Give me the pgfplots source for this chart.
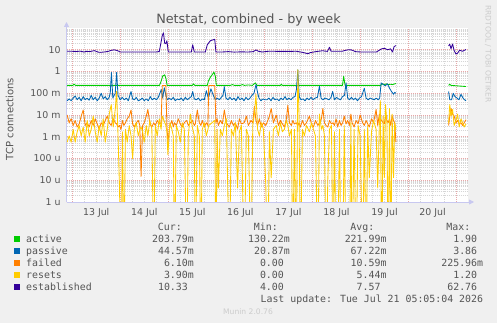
\documentclass[border=0pt]{standalone}
\usepackage{fontspec}
\setmainfont{DejaVu Sans}
\newfontfamily\monofont{DejaVu Sans Mono}
\usepackage{pgfplots}
\pgfplotsset{compat=1.18}
\usepackage{pgfplotstable}
\usetikzlibrary{arrows.meta}

\definecolor{cactive}{HTML}{00CC00}
\definecolor{cpassive}{HTML}{0066B3}
\definecolor{cfailed}{HTML}{FF8000}
\definecolor{cresets}{HTML}{FFCC00}
\definecolor{cestab}{HTML}{330099}
\definecolor{bg}{HTML}{F0F0F0}
\definecolor{txt}{HTML}{555555}
\definecolor{mgrid}{HTML}{E8A8A8}
\definecolor{ngrid}{HTML}{D6D6D6}
\definecolor{axcol}{HTML}{C8C8F0}
\definecolor{faint}{HTML}{CCCCCC}

% failed (f) and resets (r), connections per second; 1e-9 = zero
\pgfplotstableread{
h f r
-2.5 10e-3 0.56e-3
-1.5 4.4e-3 1.1e-3
-0.5 6.7e-3 0.56e-3
0.5 3.3e-3 2.2e-3
1.5 5.6e-3 0.56e-3
2.5 2.8e-3 1.7e-3
3.5 3.9e-3 3.3e-3
4.5 8.9e-3 1.1e-3
5.5 17e-3 2.8e-3
6.5 3.3e-3 0.56e-3
7.5 4.4e-3 5.6e-3
8.5 2.8e-3 1.1e-3
9.5 5.6e-3 2.2e-3
10.5 3.3e-3 8.9e-3
11.5 6.7e-3 1.7e-3
12.5 3.9e-3 0.56e-3
13.5 2.2e-3 3.3e-3
14.5 4.4e-3 1.1e-3
15.5 3.3e-3 6.7e-3
16.5 5.6e-3 0.56e-3
17.5 8.9e-3 2.2e-3
18.5 4.4e-3 11e-3
19.5 3.3e-3 30e-3
20.5 6.7e-3 2.8e-3
21.5 4.4e-3 18e-3
22.2 3.9e-3 120e-3
22.9 2.8e-3 1.1e-3
23.6 3.3e-3 0.006e-3
24.4 2.2e-3 1e-9
25.1 5.6e-3 1.7e-3
25.8 3.3e-3 1e-9
26.6 4.4e-3 2.2e-3
27.5 6.7e-3 0.56e-3
28.5 8.9e-3 3.3e-3
29.4 17e-3 1.1e-3
30.2 3.9e-3 0.1e-3
31 2.8e-3 2.2e-3
32 4.4e-3 4.4e-3
33 5.6e-3 1.1e-3
33.8 3.3e-3 2.2e-3
34.4 0.015e-3 2.8e-3
35.2 3.3e-3 1.7e-3
36 4.4e-3 0.56e-3
37 8.9e-3 3.3e-3
37.8 18e-3 1.1e-3
38.8 3.9e-3 5.6e-3
39.8 2.8e-3 2.2e-3
40.7 4.4e-3 1e-9
41.5 3.3e-3 3.3e-3
42.5 5.6e-3 1.1e-3
43.5 3.9e-3 6.7e-3
44.4 4.4e-3 2.2e-3
45.0 226e-3 8.9e-3
46.8 226e-3 3.3e-3
47.3 3.3e-3 1.7e-3
47.8 0.56e-3 0.15e-3
48.8 3.3e-3 4.4e-3
49.8 5.6e-3 2.2e-3
50.5 2.8e-3 1.1e-3
51.1 4.4e-3 1e-9
52 3.3e-3 3.3e-3
53 6.7e-3 1.7e-3
54 3.9e-3 0.56e-3
55 2.8e-3 4.4e-3
56 4.4e-3 2.2e-3
57.2 5.6e-3 1e-9
58 3.3e-3 1.1e-3
59 4.4e-3 11e-3
60 5.6e-3 2.8e-3
61 3.3e-3 1.1e-3
61.5 3.9e-3 1e-9
62.5 17e-3 3.3e-3
63.5 4.4e-3 1.1e-3
64.3 3.3e-3 1e-9
65 5.6e-3 2.2e-3
66 2.8e-3 4.4e-3
67 4.4e-3 1.1e-3
67.8 3.3e-3 2.2e-3
68.2 226e-3 3.3e-3
71.2 226e-3 5.6e-3
71.8 4.4e-3 1e-9
72.4 6.7e-3 2.2e-3
73 3.3e-3 0.0044e-3
74 5.6e-3 2.2e-3
75 3.9e-3 1.1e-3
76 17e-3 3.3e-3
77 4.4e-3 6.7e-3
78.5 2.8e-3 1e-9
79.5 5.6e-3 2.2e-3
80.5 3.3e-3 1.1e-3
81.5 4.4e-3 4.4e-3
82.6 2.2e-3 0.0044e-3
83.5 6.7e-3 1.7e-3
84.5 3.9e-3 3.3e-3
85.9 4.4e-3 1e-9
87 8.9e-3 2.2e-3
88 3.3e-3 1.1e-3
89.3 5.6e-3 1e-9
90.2 4.4e-3 3.3e-3
91 25e-3 11e-3
91.8 5.6e-3 90e-3
92.6 3.3e-3 2.2e-3
93.5 6.7e-3 1.1e-3
94.5 2.8e-3 4.4e-3
95.5 4.4e-3 2.2e-3
96.7 3.3e-3 0.006e-3
97.7 5.6e-3 1e-9
98.5 8.9e-3 1.7e-3
99.4 20e-3 0.013e-3
100.5 4.4e-3 2.2e-3
101.9 10e-3 3.3e-3
103 3.3e-3 1.1e-3
104 5.6e-3 4.4e-3
105 3.9e-3 1.7e-3
106 2.8e-3 2.2e-3
107 6.7e-3 5.6e-3
107.7 28e-3 3.3e-3
108.5 4.4e-3 1.1e-3
109.5 3.3e-3 2.2e-3
110.2 5.6e-3 1e-9
111 3.9e-3 2.2e-3
111.9 4.4e-3 1e-9
112.7 3.3e-3 1200e-3
113.3 4.4e-3 8.9e-3
114 2.8e-3 1e-9
115 5.6e-3 2.2e-3
116 3.3e-3 1.1e-3
117 4.4e-3 3.3e-3
118.5 8.9e-3 1.7e-3
119.5 3.9e-3 4.4e-3
120.5 2.8e-3 2.2e-3
121.5 5.6e-3 1.1e-3
122.7 3.3e-3 1e-9
123.5 4.4e-3 11e-3
124.5 6.7e-3 2.2e-3
125.2 20e-3 3.3e-3
126 4.4e-3 1.1e-3
126.8 3.3e-3 1e-9
127.7 2.8e-3 0.013e-3
128.5 5.6e-3 2.2e-3
129.5 3.9e-3 3.3e-3
130.3 4.4e-3 1e-9
131 3.3e-3 1.7e-3
131.8 6.7e-3 1e-9
132.6 2.8e-3 1e-9
133.5 5.6e-3 2.2e-3
134.3 3.3e-3 1e-9
135.1 4.4e-3 1e-9
135.9 8.9e-3 3.3e-3
136.8 3.9e-3 1e-9
137.6 5.6e-3 1e-9
138.5 3.3e-3 1e-9
139.2 11e-3 4.4e-3
139.8 4.4e-3 1e-9
140.8 2.8e-3 2.2e-3
141.8 5.6e-3 1e-9
142.8 3.9e-3 3.3e-3
143.8 10e-3 1.1e-3
145.1 4.4e-3 1e-9
145.9 3.3e-3 2.2e-3
146.8 5.6e-3 1e-9
147.6 3.9e-3 3.3e-3
148.4 2.8e-3 0.013e-3
149.5 6.7e-3 1.7e-3
150.5 4.4e-3 5.6e-3
151.8 18e-3 2.2e-3
152.6 3.3e-3 0.0044e-3
153.4 11e-3 3.3e-3
153.9 6.7e-3 46e-3
154.6 5.6e-3 1e-9
155.3 4.4e-3 8.9e-3
155.9 3.9e-3 0.013e-3
156.5 8.9e-3 30e-3
157.2 5.6e-3 4.4e-3
157.8 4.4e-3 1e-9
158.5 6.7e-3 20e-3
159.1 3.3e-3 1e-9
159.8 8.9e-3 11e-3
160.5 5.6e-3 0.013e-3
161.1 4.4e-3 4.4e-3
161.7 0.56e-3 2.2e-3
175 nan nan
188 3.3e-3 4.4e-3
188.6 8.9e-3 30e-3
189.2 20e-3 8.9e-3
190 11e-3 18e-3
190.8 8.9e-3 3.3e-3
191.7 4.4e-3 5.6e-3
192.5 5.6e-3 11e-3
193.3 3.9e-3 2.8e-3
194.2 4.4e-3 6.7e-3
195 3.3e-3 4.4e-3
195.8 4.4e-3 2.8e-3
196.7 6.1e-3 3.9e-3
}\failres

\begin{document}
\begin{tikzpicture}[x=1pt,y=1pt]
\useasboundingbox (0,0) rectangle (497,323);
\fill[bg] (0,0) rectangle (497,323);
\begin{axis}[
  at={(66.5pt,121pt)}, anchor=south west,
  width=401.5pt, height=174pt, scale only axis,
  xmin=-2.84, xmax=197.7,
  ymode=log, ymin=1e-6, ymax=100,
  unbounded coords=jump,
  axis background/.style={fill=white},
  axis x line=bottom, axis y line=left,
  axis line style={draw=axcol, line width=0.8pt},
  x axis line style={-{Triangle[length=5pt,width=5pt]}, shorten >=-6pt},
  y axis line style={-{Triangle[length=5pt,width=5pt]}, shorten >=-6pt},
  major tick length=0pt, minor tick length=0pt,
  xtick={12,36,60,84,108,132,156,180},
  xticklabels={13 Jul,14 Jul,15 Jul,16 Jul,17 Jul,18 Jul,19 Jul,20 Jul},
  minor xtick={6,12,18,30,36,42,54,60,66,78,84,90,102,108,114,126,132,138,150,156,162,174,180,186},
  extra x ticks={0,24,48,72,96,120,144,168,192},
  extra x tick labels={},
  extra x tick style={grid=major},
  ytick={1e-6,1e-5,1e-4,1e-3,1e-2,1e-1,1,10},
  yticklabels={1 u,10 u,100 u,1 m,10 m,100 m,1\hspace{0.7em},10\hspace{0.7em}},
  minor ytick={2e-6,3e-6,4e-6,5e-6,6e-6,7e-6,8e-6,9e-6,2e-5,3e-5,4e-5,5e-5,6e-5,7e-5,8e-5,9e-5,2e-4,3e-4,4e-4,5e-4,6e-4,7e-4,8e-4,9e-4,2e-3,3e-3,4e-3,5e-3,6e-3,7e-3,8e-3,9e-3,0.02,0.03,0.04,0.05,0.06,0.07,0.08,0.09,0.2,0.3,0.4,0.5,0.6,0.7,0.8,0.9,2,3,4,5,6,7,8,9,20,30,40,50,60,70,80,90},
  xmajorgrids=false, xminorgrids=true, ymajorgrids=true, yminorgrids=true,
  major grid style={draw=mgrid, line width=0.7pt, dash pattern=on 1pt off 1pt},
  minor grid style={draw=ngrid, line width=0.6pt, dash pattern=on 1pt off 1pt},
  tick label style={font=\fontsize{9.4}{11}\selectfont, text=txt},
  yticklabel style={anchor=east, inner sep=0pt, xshift=-5.8pt},
  xticklabel style={anchor=north, inner sep=0pt, yshift=-6.5pt},
  every axis plot/.append style={line width=0.85pt, line join=round},
]
% active
\addplot[cactive] coordinates {
(-2.5,0.23) (0.3,0.23) (1,0.26) (1.7,0.23) (43.6,0.23) (44.4,0.35) (45.2,0.62) (46.2,0.7) (46.9,0.45) (47.4,0.23)
(60,0.23) (60.6,0.27) (61.2,0.23) (67.5,0.23) (68,0.36) (69,0.55) (70,0.72) (70.8,0.95) (71.5,0.6) (72,0.23)
(79,0.23) (80,0.25) (81,0.23) (84,0.23) (85,0.25) (86,0.23) (88,0.24) (90,0.23) (91.5,0.3) (92.3,0.23)
(104,0.23) (104.4,0.26) (105,0.23) (135,0.23) (135.6,0.6) (136.3,0.23) (154,0.23) (155,0.27) (156,0.25)
(157,0.27) (158,0.25) (159,0.26) (160,0.25) (161,0.27) (161.7,0.28) (175,nan)
(188,0.23) (188.6,0.26) (189.2,0.23) (196.7,0.204)
};
% passive
\addplot[cpassive] coordinates {
(-2.5,0.045) (-1.5,0.055) (-0.5,0.045) (0.5,0.06) (1.5,0.075) (2.5,0.05) (3.5,0.065) (4.5,0.045) (5.5,0.07)
(6.5,0.05) (7.5,0.06) (8.5,0.048) (9.5,0.08) (10.5,0.05) (11.5,0.065) (12.5,0.045) (13.5,0.06) (14.5,0.1)
(15.5,0.055) (16.5,0.07) (17.5,0.05) (18.5,0.065) (19,0.1) (19.6,0.9) (20.3,0.06) (21.5,0.1) (22.2,0.9)
(22.9,0.08) (24,0.05) (25,0.065) (26,0.05) (27,0.06) (28,0.045) (29.4,0.12) (30.2,0.055) (31,0.05)
(32,0.065) (33,0.045) (34,0.05) (35,0.06) (36,0.045) (37,0.055) (38,0.045) (39,0.07) (40,0.05) (41,0.06)
(42,0.05) (43,0.065) (43.8,0.1) (44.5,0.15) (45.2,0.06) (46,0.18) (46.8,0.08) (47.5,0.05) (48.5,0.06)
(49.5,0.05) (50.5,0.065) (51.5,0.045) (52.5,0.055) (53.5,0.05) (54.5,0.06) (55.5,0.045) (56.5,0.065)
(57.5,0.05) (58.5,0.06) (59.5,0.07) (60.2,0.12) (61,0.055) (62,0.05) (63,0.06) (64,0.045) (65,0.055)
(66,0.05) (67,0.13) (68,0.06) (69.3,0.16) (70.5,0.08) (71.5,0.05) (72.5,0.06) (73.5,0.05) (74.5,0.065)
(75.3,0.08) (76,0.2) (76.8,0.06) (77.8,0.05) (78.8,0.065) (79.8,0.05) (80.8,0.06) (81.8,0.045) (82.8,0.07)
(83.8,0.05) (84.8,0.06) (85.8,0.045) (86.8,0.065) (87.8,0.05) (88.8,0.06) (89.8,0.08) (90.8,0.1)
(91.8,0.25) (92.5,0.12) (93.3,0.06) (94.3,0.045) (95.3,0.055) (96.3,0.05) (97.3,0.05) (98.3,0.06)
(99.3,0.045) (100.3,0.065) (101.3,0.05) (102.3,0.055) (103.3,0.045) (104.3,0.06) (105.3,0.05) (106.3,0.07)
(107.3,0.05) (108.3,0.06) (109.3,0.05) (110.3,0.065) (111.3,0.07) (112,0.15) (112.7,1.2) (113.4,0.07)
(114.3,0.05) (115.3,0.055) (116.3,0.045) (117.3,0.06) (118.3,0.05) (119.3,0.065) (120.3,0.05) (121.3,0.06)
(122.5,0.065) (123.5,0.21) (124.3,0.06) (125.3,0.05) (126.3,0.06) (127.3,0.055) (128.3,0.05) (129.3,0.065)
(130.1,0.12) (131,0.05) (132,0.065) (133,0.055) (134,0.05) (135,0.07) (136,0.08) (136.8,0.3) (137.6,0.06)
(138.5,0.05) (139.5,0.065) (140.5,0.05) (141.5,0.06) (142.5,0.045) (143.5,0.06) (144.5,0.07) (145.9,0.17)
(146.8,0.06) (147.8,0.05) (148.8,0.06) (149.8,0.055) (150.8,0.05) (151.8,0.06) (152.8,0.05) (153.6,0.06)
(154.3,0.3) (155.2,0.26) (156.3,0.22) (157.5,0.27) (158.5,0.17) (159.5,0.12) (160.5,0.09) (161.1,0.11)
(161.7,0.1) (175,nan) (188,0.12) (188.6,0.05) (189.5,0.05) (190.3,0.1) (191.2,0.07) (192.2,0.06)
(193.2,0.05) (194.2,0.09) (195.2,0.06) (196,0.05) (196.7,0.045)
};
% failed
\addplot[cfailed] table[x=h, y=f] {\failres};
% resets
\addplot[cresets] table[x=h, y=r] {\failres};
% established
\addplot[cestab] coordinates {
(-2.5,8.5) (0,8.5) (2,8.3) (4,8.6) (6,7.9) (7,8.4) (9,8.3) (11,9.1) (13,7.8) (14,7.6) (16,7.9) (18,8.4)
(19.5,9.4) (21,9.9) (22.5,9.2) (24,7.9) (30,7.9) (36,7.9) (42,7.9) (43.5,8.3) (44.2,18) (45,45) (45.6,60)
(46.2,20) (46.8,19) (47.3,26) (48,7.9) (54,7.9) (59.5,7.9) (60.2,17) (61,7.9) (66.5,7.9) (67.5,17) (69,26)
(70.5,29) (71.2,30) (71.8,7.9) (75,7.9) (78,8.2) (81,7.8) (84,8.0) (88,7.9) (90.5,8.2) (91.8,9.8) (93,8.5)
(95,7.9) (98,8.5) (100,8.5) (104,8.4) (108,8.4) (112,8.5) (115,7.6) (117.7,6.6) (119,7.4) (121,8.0)
(123,8.5) (125,9.0) (127.5,8.4) (128.5,13) (129.3,8.5) (132,8.5) (135,8.6) (136.5,9.4) (138,10)
(139.5,9.8) (141.5,8.2) (144,7.9) (148,7.9) (152,7.9) (154.5,11) (156,11.7) (157.5,10) (159,11) (160,7.9)
(160.8,14) (161.7,15.5) (175,nan) (188,15) (188.6,18) (189.2,11) (190,18.5) (190.8,9) (191.7,6.4)
(192.5,7) (193.5,9.5) (195,8.5) (196.7,10.33)
};
\end{axis}

% title and axis title
\node[anchor=base, text=txt, font=\fontsize{12.8}{14}\selectfont, inner sep=0pt] at (248.5,299) {Netstat, combined - by week};
\node[anchor=base, rotate=90, text=txt, font=\fontsize{10}{12}\selectfont, inner sep=0pt] at (13.5,204) {TCP connections};
\node[anchor=base, rotate=-90, text=faint, font=\fontsize{7.6}{9}\selectfont, inner sep=0pt] at (485.5,269) {RRDTOOL / TOBI OETIKER};

% legend table
\begin{scope}[every node/.style={inner sep=0pt, text=txt, font=\monofont\fontsize{9.9}{11}\selectfont}]
\node[anchor=base east] at (182,92.2) {Cur:};
\node[anchor=base east] at (278,92.2) {Min:};
\node[anchor=base east] at (374.5,92.2) {Avg:};
\node[anchor=base east] at (470.5,92.2) {Max:};

\fill[cactive]  (14,80.7) rectangle (20,86.7);
\fill[cpassive] (14,68.7) rectangle (20,74.7);
\fill[cfailed]  (14,56.7) rectangle (20,62.7);
\fill[cresets]  (14,44.7) rectangle (20,50.7);
\fill[cestab]   (14,32.7) rectangle (20,38.7);

\node[anchor=base west] at (26,80.2) {active};
\node[anchor=base west] at (26,68.2) {passive};
\node[anchor=base west] at (26,56.2) {failed};
\node[anchor=base west] at (26,44.2) {resets};
\node[anchor=base west] at (26,32.2) {established};

\node[anchor=base east] at (194,80.2) {203.79m};
\node[anchor=base east] at (290,80.2) {130.22m};
\node[anchor=base east] at (386.7,80.2) {221.99m};
\node[anchor=base east] at (483.3,80.2) {1.90\phantom{m}};

\node[anchor=base east] at (194,68.2) {44.57m};
\node[anchor=base east] at (290,68.2) {20.87m};
\node[anchor=base east] at (386.7,68.2) {67.22m};
\node[anchor=base east] at (483.3,68.2) {3.86\phantom{m}};

\node[anchor=base east] at (194,56.2) {6.10m};
\node[anchor=base east] at (290,56.2) {0.00\phantom{m}};
\node[anchor=base east] at (386.7,56.2) {10.59m};
\node[anchor=base east] at (483.3,56.2) {225.96m};

\node[anchor=base east] at (194,44.2) {3.90m};
\node[anchor=base east] at (290,44.2) {0.00\phantom{m}};
\node[anchor=base east] at (386.7,44.2) {5.44m};
\node[anchor=base east] at (483.3,44.2) {1.20\phantom{m}};

\node[anchor=base east] at (194,32.2) {10.33\phantom{m}};
\node[anchor=base east] at (290,32.2) {4.00\phantom{m}};
\node[anchor=base east] at (386.7,32.2) {7.57\phantom{m}};
\node[anchor=base east] at (483.3,32.2) {62.76\phantom{m}};

\node[anchor=base east] at (483.3,20.2) {Last update: Tue Jul 21 05:05:04 2026};
\end{scope}
\node[anchor=base, inner sep=0pt, text=faint, font=\fontsize{7.6}{9}\selectfont] at (248,8) {Munin 2.0.76};
\end{tikzpicture}
\end{document}
